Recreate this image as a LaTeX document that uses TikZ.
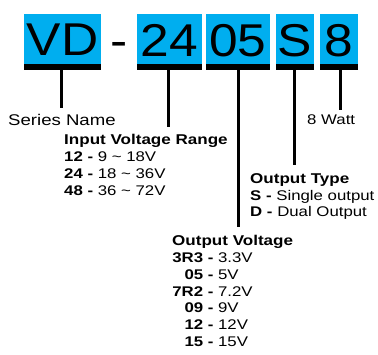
\documentclass[tikz,border=0pt]{standalone}
\usepackage{fontspec}
\setmainfont{Liberation Sans}[FakeStretch=1.2]
\newfontfamily\bigfont{Liberation Sans}[FakeStretch=1.12]
\definecolor{codeblue}{RGB}{0,174,239}
\begin{document}
\begin{tikzpicture}[x=1pt,y=-1pt,
  codebox/.style={fill=codeblue, inner sep=0, anchor=north west, minimum height=49.5pt},
  barbox/.style={fill=black, inner sep=0, anchor=north west, minimum height=6pt},
  bigtxt/.style={inner sep=0, anchor=base, font=\bigfont\fontsize{46}{46}\selectfont},
  conn/.style={line width=3pt},
  lbl/.style={inner sep=0, anchor=base west, font=\fontsize{14}{17}\selectfont},
  ttl/.style={lbl, font=\fontsize{14.2}{17}\selectfont\bfseries}
]
\useasboundingbox[fill=white] (0,0) rectangle (378,354);

% code boxes
\node[codebox, minimum width=77pt] (vd) at (24,14) {};
\node[codebox, minimum width=65pt] (b24) at (137,14) {};
\node[codebox, minimum width=64pt] (b05) at (206,14) {};
\node[codebox, minimum width=38pt] (bS) at (276,14) {};
\node[codebox, minimum width=38pt] (b8) at (320,14) {};

\node[barbox, minimum width=77pt] (vdbar) at (24,63.5) {};
\node[barbox, minimum width=65pt] (bar24) at (137,63.5) {};
\node[barbox, minimum width=64pt] (bar05) at (206,63.5) {};
\node[barbox, minimum width=38pt] (barS) at (276,63.5) {};
\node[barbox, minimum width=38pt] (bar8) at (320,63.5) {};

\node[bigtxt] (tvd) at (62.5,55.5) {VD};
\node[bigtxt] (tdash) at (119,56) {-};
\node[bigtxt] (t24) at (169.5,56) {24};
\node[bigtxt] (t05) at (238,56) {05};
\node[bigtxt] (tS) at (295,56) {S};
\node[bigtxt] (t8) at (339,56) {8};

% labels
\node[lbl, font=\fontsize{15.5}{17}\selectfont] (series) at (8,125) {Series Name};
\node[ttl] (ivr) at (64,144) {Input Voltage Range};
\node[lbl] (ivr1) at (64,161) {\textbf{12 - }9 \textasciitilde\ 18V};
\node[lbl] (ivr2) at (64,178) {\textbf{24 - }18 \textasciitilde\ 36V};
\node[lbl] (ivr3) at (64,195) {\textbf{48 - }36 \textasciitilde\ 72V};

\node[lbl] (watt) at (307,124) {8 Watt};

\node[ttl] (otype) at (250,183.3) {Output Type};
\node[lbl] (ot1) at (250,200) {\textbf{S - }Single output};
\node[lbl] (ot2) at (250,216.7) {\textbf{D - }Dual Output};

\node[ttl] (ovolt) at (172,245) {Output Voltage};
\node[lbl] (ov1) at (172,262.7) {\makebox[31pt][r]{\bfseries 3R3}\textbf{ - }3.3V};
\node[lbl] (ov2) at (172,279.4) {\makebox[31pt][r]{\bfseries 05}\textbf{ - }5V};
\node[lbl] (ov3) at (172,296.1) {\makebox[31pt][r]{\bfseries 7R2}\textbf{ - }7.2V};
\node[lbl] (ov4) at (172,312.8) {\makebox[31pt][r]{\bfseries 09}\textbf{ - }9V};
\node[lbl] (ov5) at (172,329.5) {\makebox[31pt][r]{\bfseries 12}\textbf{ - }12V};
\node[lbl] (ov6) at (172,346.2) {\makebox[31pt][r]{\bfseries 15}\textbf{ - }15V};

% connector ends
\coordinate (eVD) at (61,108);
\coordinate (e24) at (168,127);
\coordinate (e05) at (238.3,227);
\coordinate (eS) at (294.5,165);
\coordinate (e8) at (340,110);

\draw[conn] (vdbar.south -| eVD) -- (eVD);
\draw[conn] (bar24.south -| e24) -- (e24);
\draw[conn] (bar05.south -| e05) -- (e05);
\draw[conn] (barS.south -| eS) -- (eS);
\draw[conn] (bar8.south -| e8) -- (e8);
\end{tikzpicture}
\end{document}
